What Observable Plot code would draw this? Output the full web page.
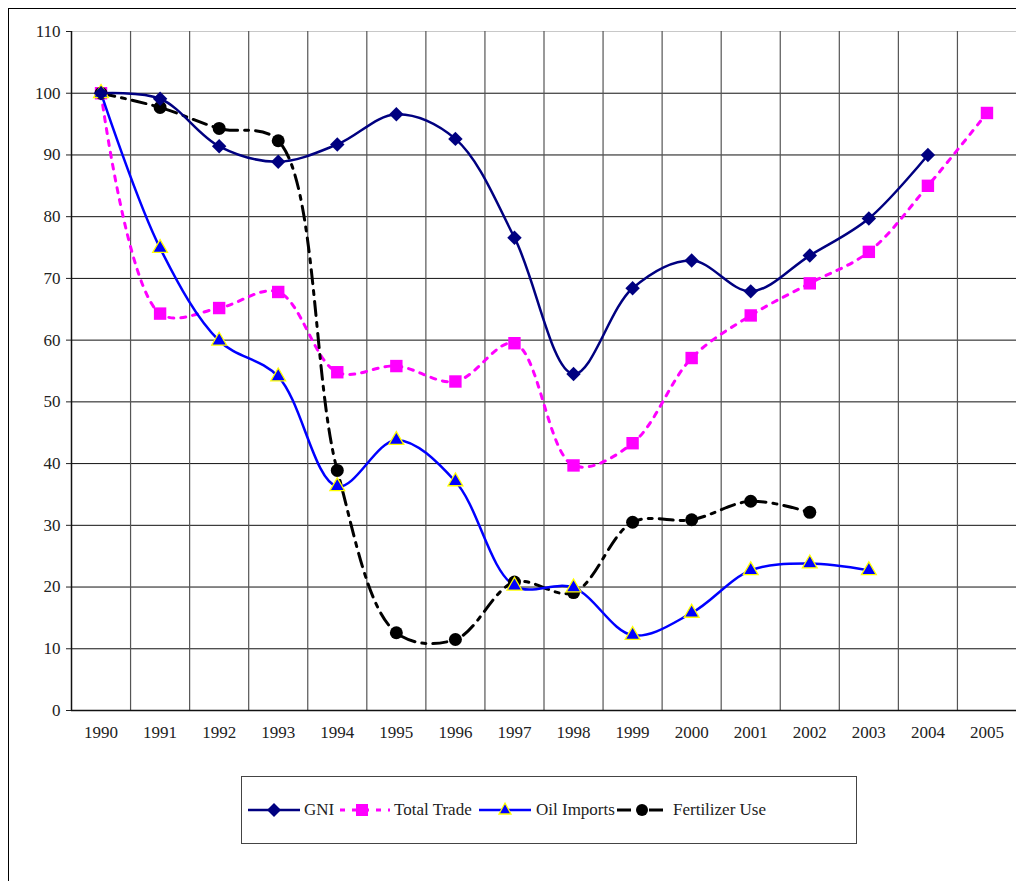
<!DOCTYPE html>
<html>
<head>
<meta charset="utf-8">
<script src="https://cdn.jsdelivr.net/npm/d3@7"></script>
<script src="https://cdn.jsdelivr.net/npm/@observablehq/plot@0.6"></script>
<style>
  html, body { margin: 0; padding: 0; background: #fff; }
  #wrap { position: relative; width: 1016px; height: 881px; overflow: hidden; font-family: "Liberation Serif", "Times New Roman", serif; }
  #frame { position: absolute; left: 8px; top: 8px; width: 1100px; height: 1000px; border-left: 1px solid #000; border-top: 1px solid #000; pointer-events: none; z-index: 2; }
  #chart { position: absolute; left: 0; top: 0; }
  #legend { position: absolute; left: 241px; top: 776px; width: 614px; height: 66px; border: 1px solid #444; background: #fff; }
  .item { position: absolute; top: 0; height: 66px; display: flex; align-items: center; font-family: "Liberation Serif", "Times New Roman", serif; font-size: 17px; color: #222; white-space: nowrap; }
  .item svg { display: block; }
</style>
</head>
<body>
<div id="wrap">
  <div id="chart"></div>
  <div id="legend"></div>
  <div id="frame"></div>
</div>
<script>
const years = [1990,1991,1992,1993,1994,1995,1996,1997,1998,1999,2000,2001,2002,2003,2004,2005];
const gni        = [100, 99.1, 91.4, 88.9, 91.7, 96.6, 92.6, 76.6, 54.5, 68.4, 72.9, 67.9, 73.7, 79.7, 90.0, null];
const totalTrade = [100, 64.3, 65.2, 67.8, 54.8, 55.8, 53.3, 59.5, 39.7, 43.3, 57.1, 64.0, 69.2, 74.3, 85.0, 96.8];
const oilImports = [100, 74.9, 59.9, 54.1, 36.3, 43.8, 37.1, 20.2, 19.9, 12.2, 15.8, 22.7, 23.8, 22.7, null, null];
const fertilizer = [100, 97.7, 94.3, 92.3, 38.9, 12.6, 11.5, 20.8, 19.1, 30.5, 30.9, 33.9, 32.1, null, null, null];
const yTicks = [0,10,20,30,40,50,60,70,80,90,100,110];
const seriesNames = ["GNI", "Total Trade", "Oil Imports", "Fertilizer Use"];

const toRows = (vals) => years.map((y, i) => ({year: y, value: vals[i]})).filter(d => d.value != null);
const gniRows = toRows(gni), tradeRows = toRows(totalTrade), oilRows = toRows(oilImports), fertRows = toRows(fertilizer);
const boundaries = years.slice(0, -1).map(y => y + 0.5);

const chart = Plot.plot({
  width: 1016,
  height: 760,
  marginLeft: 71,
  marginRight: 0,
  marginTop: 31,
  marginBottom: 50,
  style: {background: "transparent", fontFamily: "'Liberation Serif', 'Times New Roman', serif", fontSize: "17px", color: "#222"},
  x: {domain: [1989.5, 2005.5], ticks: years, tickFormat: d => String(d), tickSize: 0, tickPadding: 15, label: null},
  y: {domain: [0, 110], ticks: yTicks, tickSize: 5, tickPadding: 6, label: null},
  marks: [
    Plot.ruleY([110], {stroke: "#c8c8c8", strokeWidth: 1}),
    Plot.ruleY(yTicks.filter(t => t > 0 && t < 110), {stroke: "#111", strokeWidth: 1}),
    Plot.ruleX(boundaries, {stroke: "#555", strokeWidth: 1.2}),
    Plot.ruleY([0], {stroke: "#111", strokeWidth: 1.5}),
    Plot.ruleX([1989.5], {stroke: "#111", strokeWidth: 1.5}),
    Plot.line(tradeRows, {x: "year", y: "value", stroke: "#ff00ff", strokeWidth: 3, strokeDasharray: "5,7", curve: "catmull-rom"}),
    Plot.line(fertRows, {x: "year", y: "value", stroke: "#000", strokeWidth: 3, strokeDasharray: "14,7,4,7", curve: "catmull-rom"}),
    Plot.line(oilRows, {x: "year", y: "value", stroke: "#0000ff", strokeWidth: 2.5, curve: "catmull-rom"}),
    Plot.line(gniRows, {x: "year", y: "value", stroke: "#000080", strokeWidth: 2.5, curve: "catmull-rom"}),
    Plot.dot(tradeRows, {x: "year", y: "value", symbol: "square", r: 7, fill: "#ff00ff", stroke: "none"}),
    Plot.dot(fertRows, {x: "year", y: "value", symbol: "circle", r: 6.5, fill: "#000", stroke: "none"}),
    Plot.dot(oilRows, {x: "year", y: "value", symbol: "triangle", r: 5.5, fill: "#0000ff", stroke: "#ffff00", strokeWidth: 1.3}),
    Plot.dot(gniRows, {x: "year", y: "value", symbol: "diamond2", r: 6.5, fill: "#000080", stroke: "none"})
  ]
});
document.getElementById("chart").appendChild(chart);

// Legend
const legendItems = [
  {name: seriesNames[0], left: 6, w: 54, svg: `<line x1="0" y1="10" x2="52" y2="10" stroke="#000080" stroke-width="2.5"/><path d="M26,3 L33,10 L26,17 L19,10 Z" fill="#000080"/>`},
  {name: seriesNames[1], left: 98, w: 52, svg: `<line x1="0" y1="10" x2="50" y2="10" stroke="#ff00ff" stroke-width="3" stroke-dasharray="5,7"/><rect x="16" y="4" width="12" height="12" fill="#ff00ff"/>`},
  {name: seriesNames[2], left: 237, w: 55, svg: `<line x1="0" y1="10" x2="52" y2="10" stroke="#0000ff" stroke-width="2.5"/><path d="M26,3 L32,14 L20,14 Z" fill="#0000ff" stroke="#ffff00" stroke-width="1.3"/>`},
  {name: seriesNames[3], left: 375, w: 54, svg: `<line x1="0" y1="10" x2="52" y2="10" stroke="#000" stroke-width="3" stroke-dasharray="14,7,4,7"/><circle cx="25" cy="10" r="6" fill="#000"/>`}
];
const legend = document.getElementById("legend");
for (const it of legendItems) {
  const div = document.createElement("div");
  div.className = "item";
  div.style.left = it.left + "px";
  div.innerHTML = `<svg width="${it.w}" height="20" viewBox="0 0 ${it.w} 20">${it.svg}</svg><span style="margin-left:2px">${it.name}</span>`;
  legend.appendChild(div);
}
</script>
</body>
</html>
